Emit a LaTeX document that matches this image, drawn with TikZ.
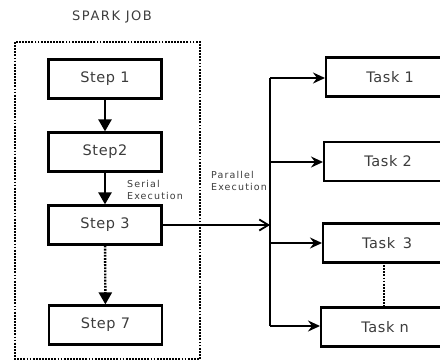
\documentclass[tikz,border=0pt]{standalone}
\usepackage{fontspec}
\setmainfont{DejaVu Sans}
\newfontfamily\boxfont[LetterSpace=4]{DejaVu Sans}
\newfontfamily\labelfont[LetterSpace=12]{DejaVu Sans}
\newfontfamily\titlefont[LetterSpace=12]{DejaVu Sans}
\usetikzlibrary{arrows.meta}
\definecolor{inkgray}{HTML}{3C3C3C}
\tikzset{
  stepbox/.style={draw=black, line width=2.2pt, minimum width=113pt, minimum height=39pt,
    inner sep=0pt, text=inkgray, font=\boxfont\fontsize{14.5}{16}\selectfont},
  taskbox/.style={draw=black, line width=2.2pt, minimum width=128pt, minimum height=39pt,
    inner sep=0pt, anchor=west, text=inkgray, font=\boxfont\fontsize{14.5}{16}\selectfont},
  dots/.style={dash pattern=on 1.8pt off 1.3pt},
  serial/.style={line width=2.4pt, -{Triangle[width=13pt,length=12pt]}},
  branch/.style={line width=1.8pt, -{Stealth[width=11pt,length=12pt,inset=4pt]}},
  note/.style={text=inkgray, font=\labelfont\fontsize{9.5}{11.5}\selectfont, align=left, inner sep=0pt}
}
\begin{document}
\begin{tikzpicture}[x=1pt,y=-1pt]
  \useasboundingbox (0,0) rectangle (440,360);
  \clip (0,0) rectangle (440,360);

  % job frame and title
  \node[text=inkgray, font=\titlefont\fontsize{13}{15}\selectfont] (title) at (112,17) {SPARK JOB};
  \draw[line width=2.6pt, dots] (15,42) rectangle (200,359);

  % serial steps
  \node[stepbox] (s1) at (105,79) {Step 1};
  \node[stepbox] (s2) at (105,152) {Step2};
  \node[stepbox] (s3) at (105,225) {Step 3};
  \node[stepbox] (s7) at (105.5,325) {Step 7};

  \draw[serial] (s1) -- (s2);
  \draw[serial] (s2) -- (s3);
  \draw[serial, dots] (s3) -- (s7);

  \node[note] (serialtxt) at (155,190) {Serial\\Execution};

  % parallel tasks
  \node[taskbox] (t1) at (325,77) {Task 1};
  \node[taskbox] (t2) at (323,161.5) {Task 2};
  \node[taskbox] (t3) at (322,243) {Task \,3};
  \node[taskbox] (tn) at (320,327) {Task n};

  \coordinate (b1) at (270,78);
  \coordinate (b2) at (270,162);
  \coordinate (b3) at (270,243);
  \coordinate (bn) at (270,326);
  \coordinate (bin) at (270,225);
  \coordinate (gapTop) at (384,262);
  \coordinate (gapBot) at (384,307);

  \draw[line width=1.8pt] (b1) -- (bn);
  \draw[line width=1.8pt, -{Straight Barb[width=11pt,length=9pt,line width=1.8pt]}] (s3.east) -- (bin);
  \draw[branch] (b1) -- (t1.west |- b1);
  \draw[branch] (b2) -- (t2.west |- b2);
  \draw[branch] (b3) -- (t3.west |- b3);
  \draw[branch] (bn) -- (tn.west |- bn);
  \draw[line width=2.4pt, dots] (gapTop) -- (gapBot);

  \node[note] (paralleltxt) at (239,181) {Parallel\\Execution};
\end{tikzpicture}
\end{document}
